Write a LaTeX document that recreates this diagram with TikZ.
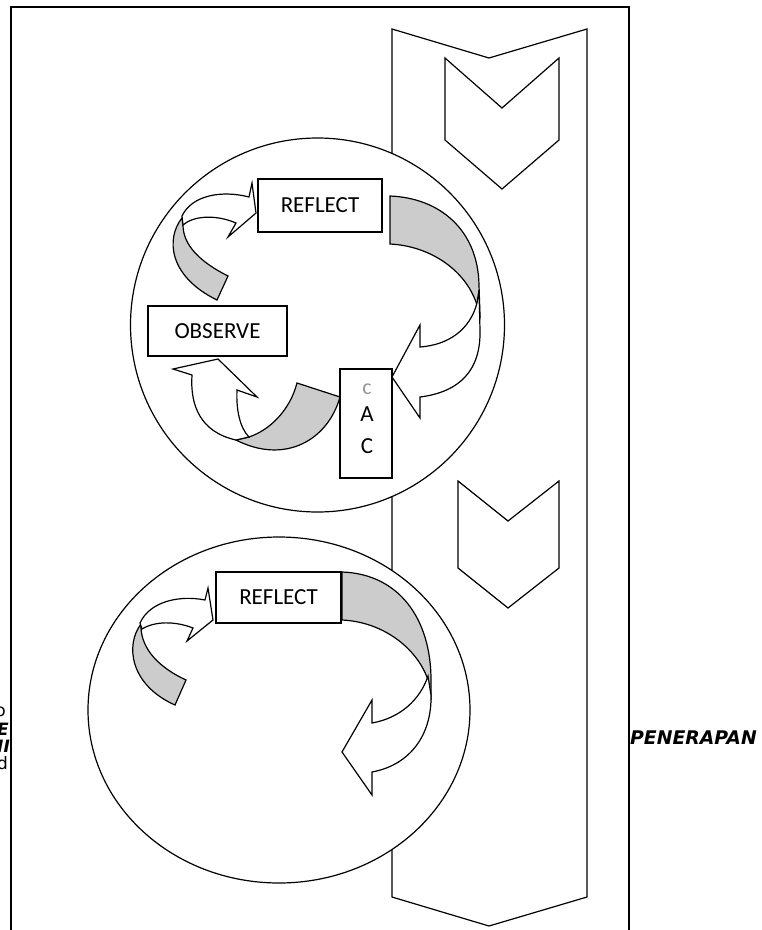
\documentclass[tikz,border=0pt]{standalone}
\usepackage{fontspec}
\setmainfont{Carlito}
\newfontfamily\gothic{DejaVu Sans}
\begin{document}
\begin{tikzpicture}[x=1pt,y=-1pt,line join=miter]
\tikzset{
  frame/.style={draw=black,line width=2pt},
  outline/.style={draw=black,line width=1.2pt,fill=white},
  backband/.style={draw=black,line width=1.2pt,fill=black!20},
  frontband/.style={draw=black,line width=1.2pt,fill=white},
  labelbox/.style={draw=black,line width=1.2pt,fill=white,inner sep=0pt,font=\fontsize{23}{27}\selectfont},
  plain/.style={inner sep=0pt,font=\fontsize{23}{27}\selectfont},
  frag/.style={inner sep=0pt,font=\gothic\bfseries\itshape\fontsize{17}{20}\selectfont},
  fragreg/.style={inner sep=0pt,font=\gothic\fontsize{17}{20}\selectfont},
}
\useasboundingbox (0,0) rectangle (762,930);
\clip (0,0) rectangle (762,930);
\fill[white] (0,0) rectangle (762,930);

% text fragments partly hidden by the frame
\node[fragreg,anchor=base east] (fragO) at (6,716) {o};
\node[frag,anchor=base west] (fragE) at (-3,735) {E};
\node[frag,anchor=base west] (fragI) at (-3,752) {II};
\node[fragreg,anchor=base west] (fragD) at (-3,769) {d};
\node[frag,font=\gothic\bfseries\itshape\fontsize{18.8}{20}\selectfont,anchor=base west] (penerapan) at (630,744) {PENERAPAN};

% frame
\fill[white] (11,7) rectangle (629,940);
\draw[frame] (11,940) |- (629,7) -- (629,940);

% big vertical band
\draw[outline] (392,29) -- (489,58) -- (587,29) -- (587,897) -- (489,926) -- (392,897) -- cycle;
% chevrons
\draw[outline] (445,58) -- (502,108) -- (559,58) -- (559,140) -- (502,189) -- (445,140) -- cycle;
\draw[outline] (458,481) -- (508,521) -- (559,481) -- (559,568) -- (508,608) -- (458,568) -- cycle;

% circles
\draw[outline] (317.5,325) circle [radius=187pt];
\draw[outline] (279,710) ellipse [x radius=191pt,y radius=173pt];

% ---- circle 1 arrows ----
% arrow A (to REFLECT)
\draw[backband] (182,218) .. controls (166,238) and (168,276) .. (217,300) -- (228,276)
   .. controls (200,262) and (183,245) .. (183,225) -- cycle;
\draw[frontband] (182,216) .. controls (192,195) and (222,190) .. (249,197) -- (252,183) -- (256,213)
   -- (228,237) -- (236,223) .. controls (215,214) and (193,216) .. (183,225) -- cycle;
% arrow B (from REFLECT down to A/C)
\draw[backband] (390,196) .. controls (440,198) and (478,230) .. (479,285) -- (480,315) -- (477,305)
   .. controls (466,270) and (430,246) .. (390,244) -- cycle;
\draw[frontband] (477,303) .. controls (470,330) and (448,345) .. (420,347) -- (420,325) -- (392,377)
   -- (420,418) -- (420,397) .. controls (460,392) and (481,370) .. (480,330) -- (479,290) -- cycle;
% arrow C (from A/C up to OBSERVE)
\draw[backband] (297,383) -- (340,397) .. controls (328,440) and (285,465) .. (236,440) -- (249,437)
   .. controls (270,430) and (290,410) .. (297,383) -- cycle;
\draw[frontband] (236,440) .. controls (200,432) and (190,405) .. (192,375) -- (173,369) -- (218,359)
   -- (257,397) -- (237,390) .. controls (236,410) and (240,428) .. (249,437) -- cycle;

% ---- circle 2 arrows ----
% arrow D (to REFLECT)
\draw[backband] (141,624) .. controls (125,645) and (130,685) .. (175,705) -- (186,680)
   .. controls (160,668) and (142,650) .. (141,628) -- cycle;
\draw[frontband] (140,623) .. controls (150,601) and (180,595) .. (205,600) -- (208,588) -- (213,620)
   -- (187,641) -- (193,628) .. controls (175,621) and (155,621) .. (142,629) -- cycle;
% arrow E (from REFLECT down-left)
\draw[backband] (342,572) .. controls (400,574) and (431,620) .. (431,680) -- (431,700) -- (428,680)
   .. controls (418,650) and (385,622) .. (342,620) -- cycle;
\draw[frontband] (428,676) .. controls (420,700) and (400,718) .. (372,723) -- (372,700) -- (342,752)
   -- (372,795) -- (372,772) .. controls (410,765) and (432,735) .. (431,695) -- cycle;

% boxes
\node[labelbox,minimum width=124pt,minimum height=53pt] (reflectA) at (320,205.5) {REFLECT};
\node[labelbox,minimum width=139pt,minimum height=50pt] (observe) at (217.5,331) {OBSERVE};
\node[labelbox,minimum width=52pt,minimum height=109pt] (act) at (366,423.5) {};
\node[plain,text=black!40,font=\fontsize{22}{22}\selectfont] (actglyph) at (367,389) {c};
\node[plain] (actA) at (367,414.5) {A};
\node[plain] (actC) at (367,446) {C};
\node[labelbox,minimum width=125pt,minimum height=51pt] (reflectB) at (278.5,597.5) {REFLECT};
\end{tikzpicture}
\end{document}
